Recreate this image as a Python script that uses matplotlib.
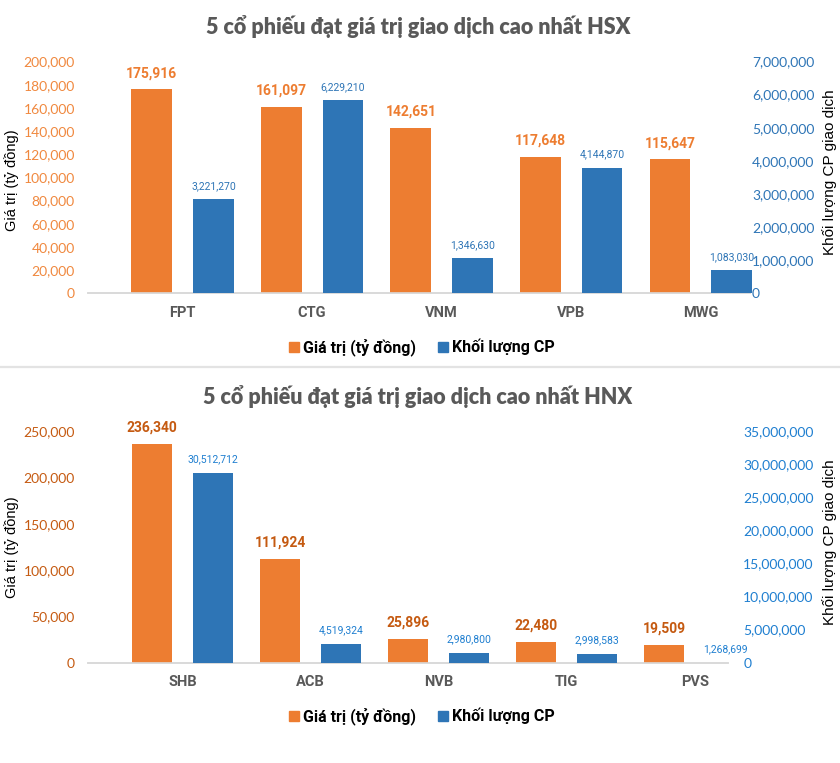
import matplotlib
matplotlib.use('Agg')
import matplotlib.pyplot as plt
from matplotlib.lines import Line2D

# ---- data ----
hsx_codes = ['FPT', 'CTG', 'VNM', 'VPB', 'MWG']
hsx_value = [175916, 161097, 142651, 117648, 115647]          # ty dong
hsx_volume = [2850000, 5840000, 1060000, 3790000, 700000]     # bar heights as drawn
hsx_volume_lbl = ['3,221,270', '6,229,210', '1,346,630', '4,144,870', '1,083,030']

hnx_codes = ['SHB', 'ACB', 'NVB', 'TIG', 'PVS']
hnx_value = [236340, 111924, 25896, 22480, 19509]
hnx_volume = [28700000, 2900000, 1500000, 1350000, 0]
hnx_volume_lbl = ['30,512,712', '4,519,324', '2,980,800', '2,998,583', '1,268,699']

W, H = 840, 763
fig = plt.figure(figsize=(W / 100, H / 100), dpi=100)
fig.patch.set_facecolor('white')

ORANGE = '#ED7D31'
BLUE = '#2E75B6'
GREY = '#595959'
NARROW = ['Roboto', 'DejaVu Sans']
NUMFONT = ['Lato', 'DejaVu Sans']
ARIAL = ['Liberation Sans', 'DejaVu Sans']


def px_axes(x0, x1, ytop, ybot):
    return fig.add_axes([x0 / W, 1 - ybot / H, (x1 - x0) / W, (ybot - ytop) / H])


def draw_panel(ax, codes, value, volume, vol_lbl, vmax, vstep, wmax, wstep,
               xlim, cols, rpad):
    lt_col, rt_col, olab_col, blab_col = cols
    ax2 = ax.twinx()
    x = list(range(len(codes)))
    bw = 0.315
    off = 0.238
    ax.bar([i - off for i in x], value, bw, color=ORANGE, zorder=3)
    ax2.bar([i + off for i in x], volume, bw, color=BLUE, zorder=3, clip_on=False)

    for i, v in enumerate(value):
        ax.annotate(format(v, ','), (i - off, v), xytext=(0, 11.5), textcoords='offset points',
                    ha='center', va='center', color=olab_col, fontsize=10,
                    fontweight='bold', family=NARROW)
    for i, v in enumerate(volume):
        ax2.annotate(vol_lbl[i], (i + off, v), xytext=(0, 9.5), textcoords='offset points',
                     ha='center', va='center', color=blab_col, fontsize=7.5,
                     family=NARROW)

    ax.set_xlim(*xlim)
    ax.set_ylim(0, vmax)
    ax2.set_ylim(0, wmax)
    ax.set_yticks(range(0, vmax + 1, vstep))
    ax.set_yticklabels([format(t, ',') for t in range(0, vmax + 1, vstep)],
                       color=lt_col, fontsize=10, family=NUMFONT)
    ax2.set_yticks(range(0, wmax + 1, wstep))
    ax2.set_yticklabels([format(t, ',') for t in range(0, wmax + 1, wstep)],
                        color=rt_col, fontsize=10, family=NUMFONT)
    ax.set_xticks(x)
    ax.set_xticklabels(codes, color=GREY, fontsize=10.5, fontweight='bold', family=NARROW)
    ax.tick_params(axis='x', length=0, pad=9)
    ax.tick_params(axis='y', length=0, pad=9.5)
    ax2.tick_params(axis='y', length=0, pad=rpad)
    for a in (ax, ax2):
        a.patch.set_visible(False)
        for s in ['top', 'left', 'right']:
            a.spines[s].set_visible(False)
        a.spines['bottom'].set_color('#D9D9D9')
        a.spines['bottom'].set_linewidth(1.2)
    return ax2


def legend_at(ycen):
    handles = [Line2D([], [], marker='s', ls='none', color=ORANGE, markersize=7),
               Line2D([], [], marker='s', ls='none', color=BLUE, markersize=7)]
    fig.legend(handles, ['Giá trị (tỷ đồng)', 'Khối lượng CP'], loc='center',
               bbox_to_anchor=(422 / W, 1 - ycen / H), ncol=2, frameon=False,
               handlelength=0.6, handletextpad=0.25, columnspacing=1.4,
               prop={'family': NARROW, 'weight': 'bold', 'size': 11.5})


# ---- HSX ----
ax = px_axes(88, 750, 61.5, 293.3)
draw_panel(ax, hsx_codes, hsx_value, hsx_volume, hsx_volume_lbl,
           200000, 20000, 7000000, 1000000, (-0.73, 4.38),
           ('#F0883E', BLUE, ORANGE, BLUE), 1.5)
fig.text(418 / W, 1 - 27 / H, '5 cổ phiếu đạt giá trị giao dịch cao nhất HSX',
         ha='center', va='center', fontsize=15.5, fontweight='heavy', color=GREY,
         family=NUMFONT)
fig.text(12 / W, 1 - 180 / H, 'Giá trị (tỷ đồng)', rotation=90, ha='center', va='center',
         fontsize=10.5, family=ARIAL)
fig.text(830 / W, 1 - 172 / H, 'Khối lượng CP giao dịch', rotation=90, ha='center',
         va='center', fontsize=11, family=ARIAL)
legend_at(347)

# separator between the two charts
fig.add_artist(Line2D([0, 1], [1 - 367 / H, 1 - 367 / H], color='#E3E3E3', lw=1.6,
                      transform=fig.transFigure))

# ---- HNX ----
ax = px_axes(88, 728, 431, 662.7)
draw_panel(ax, hnx_codes, hnx_value, hnx_volume, hnx_volume_lbl,
           250000, 50000, 35000000, 5000000, (-0.74, 4.26),
           ('#C55A11', '#1F7FD0', '#C55A11', '#1F7FD0'), 11)
fig.text(418 / W, 1 - 396 / H, '5 cổ phiếu đạt giá trị giao dịch cao nhất HNX',
         ha='center', va='center', fontsize=15.5, fontweight='heavy', color=GREY,
         family=NUMFONT)
fig.text(12 / W, 1 - 547 / H, 'Giá trị (tỷ đồng)', rotation=90, ha='center', va='center',
         fontsize=10.5, family=ARIAL)
fig.text(830 / W, 1 - 542 / H, 'Khối lượng CP giao dịch', rotation=90, ha='center',
         va='center', fontsize=11, family=ARIAL)
legend_at(716)

fig.savefig('out.png', dpi=100)
